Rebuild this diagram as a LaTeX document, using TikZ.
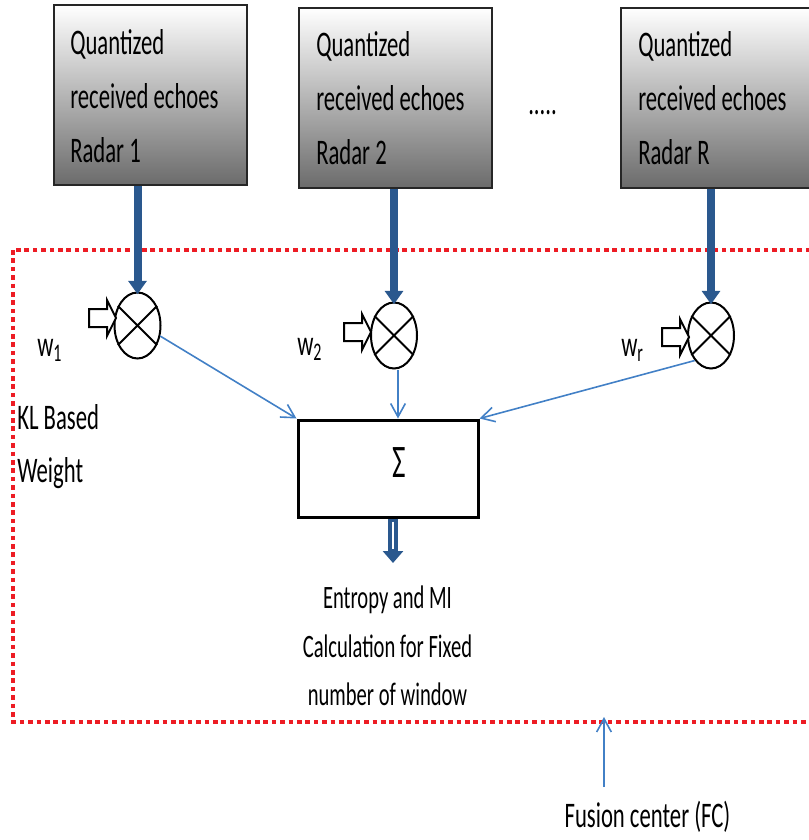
\documentclass[tikz,border=0pt]{standalone}
\usepackage{fontspec}
\setmainfont{Carlito}[FakeStretch=0.63]
\usetikzlibrary{arrows.meta,shapes.geometric,calc}
\definecolor{darkblue}{RGB}{42,88,142}
\definecolor{lineblue}{RGB}{66,128,198}
\definecolor{fcred}{RGB}{237,28,36}
\newcommand{\hollowarrow}[1]{\draw[line width=1.5pt, fill=white, line join=miter] (#1) -- ++(-9,-18) -- ++(0,9) -- ++(-18,0) -- ++(0,18) -- ++(18,0) -- ++(0,9) -- cycle;}
\begin{document}
\begin{tikzpicture}[x=0.75pt,y=-0.75pt,
  radarbox/.style={draw=black!85, line width=1.5pt, top color=white, bottom color=black!58, minimum width=193*0.75pt, minimum height=180*0.75pt, inner sep=0pt},
  bigtxt/.style={inner sep=0pt, font=\fontsize{27}{32}\selectfont},
  smalltxt/.style={inner sep=0pt, font=\fontsize{24.5}{30}\selectfont},
  mult/.style={ellipse, draw, line width=1.5pt, fill=white, minimum width=46*0.75pt, minimum height=66*0.75pt, inner sep=0pt},
  thickarrow/.style={draw=darkblue, line width=6pt, -{Triangle[width=13.5pt,length=10pt]}},
  thinarrow/.style={draw=lineblue, line width=1.2pt, -{Straight Barb[length=10pt,width=11pt]}},
  sumbox/.style={draw, line width=2.25pt, minimum width=180*0.75pt, minimum height=97*0.75pt, inner sep=0pt},
  reddot/.style={draw=fcred, line width=3.6pt, dash pattern=on 3.4pt off 2.9pt}
]
\useasboundingbox (0,0) rectangle (809,840);
\clip (0,0) rectangle (809,840);

% radar boxes
\node[radarbox] (b1) at (150.5,95) {};
\node[radarbox] (b2) at (395.5,98) {};
\node[radarbox] (bR) at (717.5,97.5) {};

\node[bigtxt, anchor=base west] (b1a) at (70,54) {Quantized};
\node[bigtxt, anchor=base west] (b1b) at (70,108) {received echoes};
\node[bigtxt, anchor=base west] (b1c) at (70,162) {Radar 1};
\node[bigtxt, anchor=base west] (b2a) at (316,56) {Quantized};
\node[bigtxt, anchor=base west] (b2b) at (316,110) {received echoes};
\node[bigtxt, anchor=base west] (b2c) at (316,164) {Radar 2};
\node[bigtxt, anchor=base west] (bRa) at (638,56) {Quantized};
\node[bigtxt, anchor=base west] (bRb) at (638,110) {received echoes};
\node[bigtxt, anchor=base west] (bRc) at (638,164) {Radar R};
\node[bigtxt, anchor=base west] (dots) at (528,114) {.....};

% fusion center border
\draw[reddot] (13,250) rectangle (830,722);

% multipliers
\node[mult] (c1) at (137.5,325.5) {};
\node[mult] (c2) at (394,335.5) {};
\node[mult] (cR) at (711,335.5) {};
\foreach \c in {c1,c2,cR}{
  \draw[line width=1.5pt] (\c.45) -- (\c.225) (\c.135) -- (\c.315);
}
\coordinate (ha1) at (116,318);
\coordinate (ha2) at (371,332);
\coordinate (haR) at (689,337);
\hollowarrow{ha1}
\hollowarrow{ha2}
\hollowarrow{haR}

% thick arrows
\draw[thickarrow, shorten >=-2pt] (b1.south -| c1) -- (c1.north);
\draw[thickarrow, shorten >=-2pt] (b2.south -| c2) -- (c2.north);
\draw[thickarrow, shorten >=-2pt] (bR.south -| cR) -- (cR.north);

% weights
\node[bigtxt, anchor=base west] (w1) at (37,356) {w\raisebox{-3.75pt}{\fontsize{19}{19}\selectfont 1}};
\node[bigtxt, anchor=base west] (w2) at (297,355) {w\raisebox{-3.75pt}{\fontsize{19}{19}\selectfont 2}};
\node[bigtxt, anchor=base west] (wr) at (621,356) {w\raisebox{-3.75pt}{\fontsize{19}{19}\selectfont r}};

\node[bigtxt, anchor=base west] (kl) at (17,429) {KL Based};
\node[bigtxt, anchor=base west] (wt) at (17,482) {Weight};

% sum box
\node[sumbox] (sig) at (388,468.5) {};
\node[inner sep=0pt, font=\fontsize{35}{35}\selectfont] (sigma) at (399,463) {Σ};

\draw[thinarrow] (c1.335) -- (sig.north west);
\draw[thinarrow] ($(c2.south)+(4,0)$) -- ($(sig.north -| c2)+(4,0)$);
\draw[thinarrow] (cR.237) -- (sig.north east);

% output double arrow
\coordinate (dtip) at (393,563);
\draw[darkblue, line width=7.5pt, -{Triangle[width=15pt,length=9pt]}] (sig.south -| dtip) -- (dtip);
\draw[white, line width=1.8pt] ($(sig.south -| dtip)+(0,3)$) -- ($(dtip)+(0,-14)$);

\node[smalltxt, anchor=base] (e1) at (387.5,608) {Entropy and MI};
\node[smalltxt, anchor=base] (e2) at (387.5,657) {Calculation for Fixed};
\node[smalltxt, anchor=base] (e3) at (387.5,705) {number of window};

% fusion center label
\coordinate (fctop) at (604,717);
\coordinate (fcbot) at (604,787);
\draw[thinarrow] (fcbot) -- (fctop);
\node[bigtxt, anchor=base] (fc) at (647.5,827) {Fusion center (FC)};
\end{tikzpicture}
\end{document}
